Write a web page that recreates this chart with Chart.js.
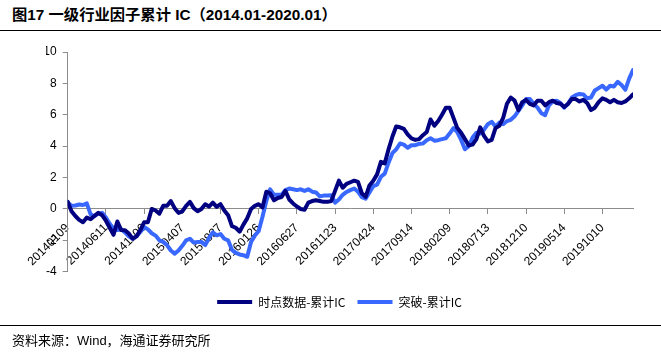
<!DOCTYPE html>
<html>
<head>
<meta charset="utf-8">
<script src="https://cdn.jsdelivr.net/npm/chart.js@4.4.0/dist/chart.umd.min.js"></script>
<style>
  body { margin: 0; background: #fff; }
  #wrap { position: relative; width: 661px; height: 354px; overflow: hidden; }
  #title { position: absolute; left: 12px; top: 5px; line-height: 20px; font-size: 15.3px; font-weight: bold; color: #000; white-space: nowrap;
           font-family: "Liberation Sans", "Noto Sans CJK SC", sans-serif; }
  #topRule { position: absolute; left: 0; right: 0; top: 30px; border-top: 1.5px solid #000; }
  #bottomRule { position: absolute; left: 0; right: 0; top: 325px; border-top: 1px solid #000; }
  #source { position: absolute; left: 12px; top: 333px; line-height: 16px; font-size: 13px; color: #000; white-space: nowrap;
            font-family: "Liberation Sans", "Noto Sans CJK SC", sans-serif; }
  #chart { position: absolute; left: 0; top: 0; }
</style>
</head>
<body>
<div id="wrap">
  <div id="title">图17 一级行业因子累计 IC（2014.01-2020.01）</div>
  <div id="topRule"></div>
  <canvas id="chart" width="661" height="354"></canvas>
  <div id="bottomRule"></div>
  <div id="source">资料来源：Wind，海通证券研究所</div>
</div>
<script>
// x axis: one point per ~10 trading days, a date label every 10 points
const tickLabels = ['20140109', '20140611', '20141106', '20150407', '20150827', '20160126', '20160627', '20161123',
  '20170424', '20170914', '20180209', '20180713', '20181210', '20190514', '20191010'];
const seriesNames = ['时点数据-累计IC', '突破-累计IC'];
const seriesColors = ['#000080', '#3868ff'];

const pointIC = [
  0.45, -0.15, -0.45, -0.7, -0.85, -0.55, -0.65, -0.45, -0.25, -0.4,
  -0.75, -1.2, -1.65, -0.8, -1.35, -1.36, -1.57, -1.89, -1.75, -1.36,
  -0.85, -0.85, 0.0, -0.1, -0.3, 0.2, 0.2, 0.5, 0.05, -0.25,
  -0.15, 0.2, 0.45, 0.05, -0.15, 0.0, 0.3, 0.15, 0.4, 0.13,
  0.3, -0.1, -0.4, -1.1, -1.2, -1.45, -1.0, -0.6, 0.0, 0.2,
  0.3, 0.1, 1.1, 1.0, 0.55, 0.7, 0.76, 1.15, 0.6, 0.35,
  0.15, 0.0, -0.05, 0.4, 0.5, 0.55, 0.5, 0.45, 0.45, 0.5,
  1.15, 1.8, 1.35, 1.6, 1.7, 1.8, 1.72, 1.0, 0.77, 1.5,
  1.8, 2.2, 3.0, 2.9, 3.8, 4.6, 5.25, 5.2, 5.1, 4.75,
  4.5, 4.4, 4.45, 4.7, 4.9, 5.7, 5.3, 5.6, 6.0, 6.45,
  6.45, 5.8, 5.15, 4.85, 4.45, 4.05, 4.1, 4.45, 5.2, 4.65,
  4.3, 4.4, 5.15, 5.3, 5.8, 6.7, 7.1, 6.9, 6.3, 6.8,
  6.95, 6.7, 6.6, 6.9, 6.9, 6.6, 6.8, 6.9, 6.75, 6.7,
  6.5, 6.7, 7.0, 7.0, 6.85, 6.95, 6.75, 6.3, 6.45, 6.8,
  7.05, 6.95, 6.8, 6.95, 6.8, 6.75, 6.85, 7.05, 7.3
];
const breakIC = [
  0.4, 0.2, 0.22, 0.28, 0.25, 0.35, -0.35, -0.45, -0.3, -0.25,
  -0.55, -0.95, -1.25, -1.35, -1.3, -1.5, -1.75, -1.9, -1.75, -1.47,
  -1.15, -1.3, -1.55, -1.7, -2.0, -2.1, -2.3, -2.65, -2.85, -2.65,
  -2.35, -2.0, -1.9, -2.15, -2.1, -2.1, -2.3, -1.85, -1.5, -1.68,
  -1.6, -1.9, -2.0, -2.6, -2.8, -2.9, -2.95, -3.05, -2.1, -1.7,
  -1.4, -0.5, 0.5, 1.25, 0.9, 0.9, 0.9, 1.2, 1.3, 1.25,
  1.2, 1.25, 1.15, 1.25, 1.1, 1.05, 0.8, 0.85, 0.85, 0.87,
  0.4, 0.6, 0.9, 1.08, 1.2, 1.3, 1.1, 0.75, 0.65, 1.05,
  1.45, 1.55, 2.05, 2.25, 2.95, 3.55, 3.8, 4.17, 4.1, 3.9,
  4.06, 4.06, 4.15, 4.17, 4.38, 4.5, 4.35, 4.38, 4.45, 4.5,
  4.8, 5.15, 4.9, 4.4, 3.8, 4.0, 4.55, 4.85, 4.8, 5.05,
  5.4, 5.55, 5.25, 5.5, 5.4, 5.6, 5.68, 5.9, 6.25, 6.6,
  7.0, 7.0, 6.7, 6.45, 6.1, 5.98, 6.6, 6.85, 6.9, 6.75,
  6.45, 6.7, 7.1, 7.25, 7.33, 7.3, 7.05, 7.1, 7.55, 7.7,
  7.85, 7.6, 7.85, 7.8, 8.1, 7.9, 7.6, 8.3, 8.85
];

const TICK_STEP = 10;
const axisColor = '#8c8c8c';
const tickFont = { family: 'Liberation Sans', size: 12 };

function toPoints(list) {
  return list.map((y, i) => ({ x: i, y }));
}

function lineDataset(label, values, color) {
  return {
    label,
    data: toPoints(values),
    borderColor: color,
    backgroundColor: color,
    borderWidth: 4,
    borderCapStyle: 'round',
    borderJoinStyle: 'round',
    pointRadius: 0,
    tension: 0
  };
}

new Chart(document.getElementById('chart').getContext('2d'), {
  type: 'line',
  data: {
    datasets: [
      lineDataset(seriesNames[0], pointIC, seriesColors[0]),
      lineDataset(seriesNames[1], breakIC, seriesColors[1])
    ]
  },
  options: {
    responsive: false,
    animation: false,
    layout: { padding: { left: 46, right: 28, top: 52, bottom: 36 } },
    plugins: {
      tooltip: { enabled: false },
      legend: {
        position: 'bottom',
        // empty title only pushes the legend row down a bit
        title: { display: true, text: '', padding: 0, font: { size: 10.25 } },
        labels: {
          usePointStyle: true,
          pointStyle: 'line',
          pointStyleWidth: 35,
          padding: 12,
          color: '#000',
          font: { family: 'Noto Sans CJK SC', size: 12 }
        }
      }
    },
    scales: {
      x: {
        type: 'linear',
        position: { y: 0 },
        min: 0,
        max: pointIC.length - 1,
        afterBuildTicks: s => { s.ticks = tickLabels.map((_, k) => ({ value: k * TICK_STEP })); },
        ticks: {
          autoSkip: false,
          minRotation: 45,
          maxRotation: 45,
          padding: 7,
          color: '#000',
          font: tickFont,
          callback: v => tickLabels[v / TICK_STEP] || ''
        },
        grid: { drawOnChartArea: false, tickLength: 5, color: axisColor },
        border: { color: axisColor, width: 1 }
      },
      y: {
        min: -4,
        max: 10,
        afterFit: s => { s.width = 21.7; },
        ticks: { stepSize: 2, padding: 6, color: '#000', font: tickFont },
        grid: { drawOnChartArea: false, tickLength: 5, color: axisColor },
        border: { color: axisColor, width: 1 }
      }
    }
  }
});
</script>
</body>
</html>
